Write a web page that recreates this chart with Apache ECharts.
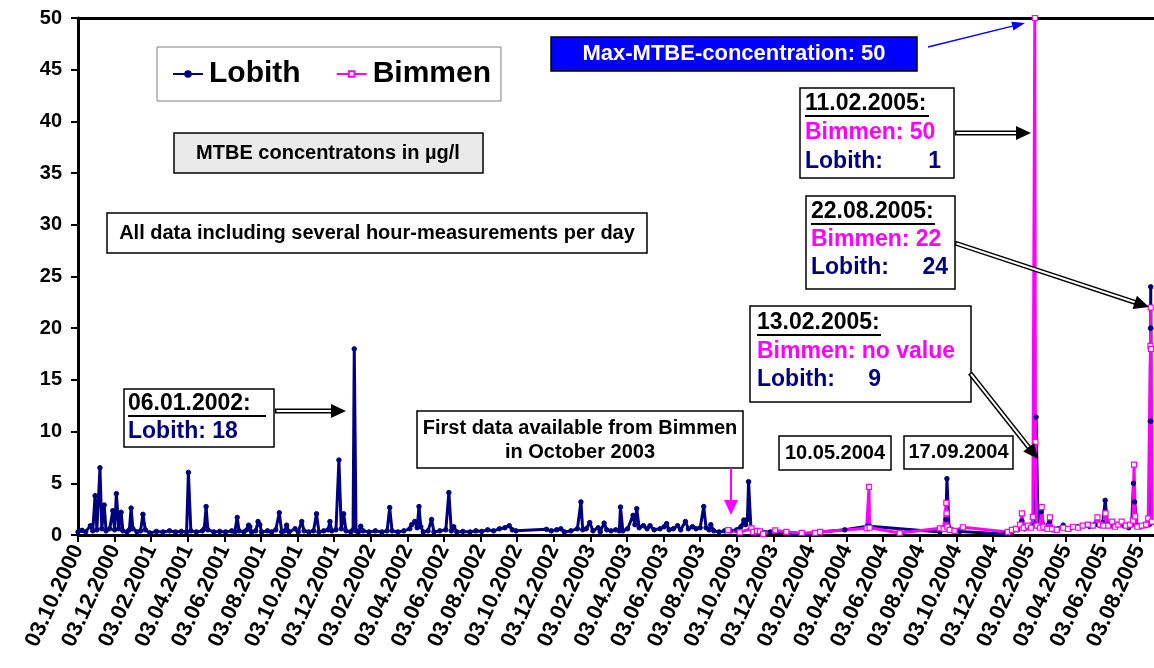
<!DOCTYPE html>
<html>
<head>
<meta charset="utf-8">
<script src="https://cdn.jsdelivr.net/npm/echarts@6/dist/echarts.min.js"></script>
<style>
  html, body { margin: 0; padding: 0; background: #fff; }
  #chart { width: 1154px; height: 668px; }
</style>
</head>
<body>
<div id="chart"></div>
<script>
// dates as dd.mm.yyyy, optionally followed by an hour
const lobithDates = [
  '03.10.2000','10.10.2000','16.10.2000','24.10.2000','28.10.2000','01.11.2000','04.11.2000','09.11.2000','12.11.2000','16.11.2000',
  '19.11.2000','25.11.2000','30.11.2000','03.12.2000','06.12.2000','10.12.2000','14.12.2000','17.12.2000','24.12.2000','28.12.2000',
  '31.12.2000','03.01.2001','10.01.2001','16.01.2001','20.01.2001','24.01.2001','01.02.2001','11.02.2001','21.02.2001','03.03.2001',
  '13.03.2001','23.03.2001','01.04.2001','04.04.2001','08.04.2001','17.04.2001','27.04.2001','30.04.2001','03.05.2001','06.05.2001',
  '16.05.2001','26.05.2001','05.06.2001','15.06.2001','20.06.2001','24.06.2001','27.06.2001','05.07.2001','10.07.2001','13.07.2001',
  '15.07.2001','18.07.2001','25.07.2001','29.07.2001','01.08.2001','04.08.2001','14.08.2001','21.08.2001','28.08.2001','03.09.2001',
  '07.09.2001','12.09.2001','15.09.2001','19.09.2001','29.09.2001','04.10.2001','10.10.2001','14.10.2001','22.10.2001','30.10.2001',
  '04.11.2001','08.11.2001','16.11.2001','23.11.2001','26.11.2001','29.11.2001','06.12.2001','11.12.2001','15.12.2001','19.12.2001',
  '23.12.2001','31.12.2001','04.01.2002','06.01.2002','09.01.2002','13.01.2002','17.01.2002','21.01.2002','31.01.2002','10.02.2002',
  '20.02.2002','28.02.2002','04.03.2002','08.03.2002','18.03.2002','28.03.2002','07.04.2002','10.04.2002','15.04.2002','19.04.2002',
  '22.04.2002','25.04.2002','29.04.2002','07.05.2002','13.05.2002','17.05.2002','27.05.2002','06.06.2002','11.06.2002','15.06.2002',
  '19.06.2002','24.06.2002','04.07.2002','16.07.2002','26.07.2002','05.08.2002','15.08.2002','25.08.2002','04.09.2002','13.09.2002',
  '20.09.2002','25.09.2002','01.10.2002','21.11.2002','29.11.2002','08.12.2002','15.12.2002','21.12.2002','01.01.2003','12.01.2003',
  '18.01.2003','21.01.2003','27.01.2003','02.02.2003','07.02.2003','15.02.2003','18.02.2003','24.02.2003','28.02.2003','07.03.2003',
  '15.03.2003','21.03.2003','23.03.2003','27.03.2003','04.04.2003','13.04.2003','16.04.2003','19.04.2003','23.04.2003','30.04.2003',
  '06.05.2003','11.05.2003','18.05.2003','28.05.2003','04.06.2003','08.06.2003','12.06.2003','19.06.2003','26.06.2003','01.07.2003',
  '09.07.2003','14.07.2003','21.07.2003','27.07.2003','03.08.2003','09.08.2003','13.08.2003','18.08.2003','21.08.2003','26.08.2003',
  '04.09.2003','13.09.2003','23.09.2003','03.10.2003','10.10.2003','15.10.2003','18.10.2003','21.10.2003','23.10.2003','27.10.2003',
  '31.10.2003','28.11.2003','23.12.2003','20.01.2004','19.02.2004','31.03.2004','07.05.2004','11.05.2004','06.09.2004','12.09.2004',
  '16.09.2004','17.09.2004 12','21.09.2004','26.09.2004','09.10.2004','23.12.2004','04.01.2005','14.01.2005','21.01.2005','26.01.2005',
  '03.02.2005','11.02.2005','13.02.2005','16.02.2005','21.02.2005','25.02.2005','06.03.2005','11.03.2005','20.03.2005','29.03.2005',
  '04.04.2005','12.04.2005','22.04.2005','02.05.2005','12.05.2005','21.05.2005','29.05.2005','03.06.2005','07.06.2005','11.06.2005',
  '18.06.2005','28.06.2005','08.07.2005','16.07.2005','21.07.2005','24.07.2005','26.07.2005','30.07.2005','05.08.2005','14.08.2005',
  '20.08.2005','21.08.2005 12','22.08.2005 0','22.08.2005 6','22.08.2005 12','22.08.2005 18','24.08.2005'
];
const lobithValues = [
  0.3,0.45,0.3,0.9,0.4,3.8,0.5,6.5,0.6,2.9,
  0.4,0.6,2.35,0.5,4.0,0.6,2.2,0.4,0.3,0.5,
  2.6,0.6,0.3,0.4,2.0,0.5,0.2,0.35,0.3,0.4,
  0.3,0.35,0.3,6.05,0.4,0.3,0.4,0.6,2.75,0.5,
  0.3,0.35,0.3,0.4,0.3,1.7,0.4,0.3,0.5,0.95,
  0.8,0.3,0.4,1.3,1.0,0.3,0.4,0.3,0.5,2.15,
  0.3,0.4,0.95,0.3,0.6,0.3,1.3,0.4,0.3,0.4,
  2.05,0.3,0.4,0.5,1.3,0.4,0.5,7.25,0.6,2.05,
  0.4,0.3,0.5,18,0.4,0.3,0.85,0.4,0.3,0.4,
  0.3,0.4,2.65,0.4,0.3,0.4,0.6,1.0,1.3,0.7,
  2.75,0.8,0.3,0.4,1.5,0.3,0.4,0.5,4.1,0.4,
  0.8,0.3,0.35,0.3,0.4,0.35,0.5,0.4,0.6,0.7,
  0.9,0.5,0.4,0.55,0.4,0.5,0.6,0.3,0.4,0.6,
  3.2,0.5,0.6,1.2,0.4,0.7,0.3,1.15,0.5,0.4,
  0.5,0.4,2.7,0.4,0.6,1.9,1.0,2.55,0.7,0.9,
  0.6,0.9,0.5,0.6,0.8,1.1,0.5,0.6,0.9,0.5,
  1.3,0.6,0.8,0.6,0.7,2.75,0.7,0.5,1.0,0.4,
  0.3,0.4,0.4,0.5,0.8,1.45,1.0,1.5,5.15,0.6,
  0.4,0.3,0.2,0.1,0.3,0.5,0.85,0.85,0.3,0.6,
  1.5,5.45,0.7,0.5,0.35,0.1,0.3,0.5,1.35,0.6,
  0.7,1.0,11.4,0.8,2.25,0.7,1.3,0.5,0.6,0.95,
  0.6,0.7,0.8,0.9,0.8,1.0,0.9,1.2,3.35,1.0,
  0.9,1.0,0.9,0.7,1.0,5.0,3.2,0.9,0.8,0.9,
  1.0,11,20,24,20,11,1.2
];
const bimmenDates = [
  '19.09.2003','08.10.2003','28.10.2003','31.10.2003','06.11.2003','11.11.2003','16.11.2003','06.12.2003','25.12.2003','20.01.2004',
  '11.02.2004','19.02.2004','06.05.2004','10.05.2004','11.05.2004','30.06.2004','06.09.2004','12.09.2004','16.09.2004 12','17.09.2004',
  '18.09.2004','22.09.2004','30.09.2004','14.10.2004','28.12.2004','04.01.2005','11.01.2005','18.01.2005','21.01.2005','24.01.2005',
  '31.01.2005','05.02.2005','08.02.2005','11.02.2005','12.02.2005','14.02.2005','19.02.2005','21.02.2005 12','24.02.2005','02.03.2005',
  '06.03.2005 12','10.03.2005','18.03.2005','29.03.2005','06.04.2005','14.04.2005','22.04.2005 12','30.04.2005','09.05.2005','17.05.2005',
  '25.05.2005','29.05.2005 12','03.06.2005 12','07.06.2005 12','12.06.2005','18.06.2005 12','23.06.2005','28.06.2005 12','04.07.2005','11.07.2005',
  '18.07.2005','23.07.2005','25.07.2005','27.07.2005','30.07.2005 12','07.08.2005','14.08.2005 12','18.08.2005','21.08.2005 18','22.08.2005 6',
  '22.08.2005 18','24.08.2005 6'
];
const bimmenValues = [
  0.48,0.25,0.64,0.3,0.4,0.35,0.1,0.45,0.3,0.2,
  0.2,0.3,0.65,4.65,0.7,0.2,0.65,0.6,3.1,2.1,
  0.8,0.5,0.4,0.75,0.3,0.5,0.6,1.0,2.1,0.7,
  0.9,0.7,1.75,50,9.0,0.9,0.7,2.7,0.8,0.6,
  1.7,0.6,0.5,0.7,0.6,0.8,0.7,0.9,1.0,0.9,
  1.7,1.0,0.9,2.1,0.9,1.3,0.8,1.0,1.3,0.9,
  1.0,1.4,6.8,1.8,0.8,0.9,1.0,1.6,18.3,22,
  18,1.3
];
const seriesNames = ['Lobith', 'Bimmen'];
const yMin = 0, yMax = 50, yStep = 5;
const xTickStep = 2; // months between ticks, counted from 03.10.2000

const FONT = '"Liberation Sans", Arial, sans-serif';

function toMonths(s) {
  const parts = s.split(' ');
  const [dd, mm, yy] = parts[0].split('.').map(Number);
  const hour = parts[1] ? Number(parts[1]) : 0;
  const dim = new Date(yy, mm, 0).getDate();
  return (yy - 2000) * 12 + (mm - 10) + (dd - 3 + hour / 24) / dim;
}
function monthLabel(v) {
  if (Math.abs(v - Math.round(v)) > 1e-6 || Math.round(v) % xTickStep) return '';
  const total = 9 + Math.round(v);
  const y = 2000 + Math.floor(total / 12);
  const m = total % 12 + 1;
  return '03.' + String(m).padStart(2, '0') + '.' + y;
}

function box(x, y, w, h, fill) {
  return { type: 'rect', z: 20, shape: { x: x, y: y, width: w, height: h },
    style: { fill: fill || '#fff', stroke: '#000', lineWidth: 1.5 } };
}
function txt(x, y, text, size, color, align) {
  return { type: 'text', z: 21, x: x, y: y,
    style: { text: text, fill: color || '#000', font: 'bold ' + size + 'px ' + FONT,
      align: align || 'left', verticalAlign: 'middle' } };
}
function uline(x1, x2, y) {
  return { type: 'line', z: 21, shape: { x1: x1, y1: y, x2: x2, y2: y }, style: { stroke: '#000', lineWidth: 2 } };
}
function doubleArrow(x1, y1, x2, y2) {
  const dx = x2 - x1, dy = y2 - y1, L = Math.hypot(dx, dy);
  const ux = dx / L, uy = dy / L, nx = -uy, ny = ux;
  const hl = 15, hw = 7;
  const bx = x2 - ux * hl, by = y2 - uy * hl;
  return [
    { type: 'line', z: 20, shape: { x1: x1, y1: y1, x2: bx + ux, y2: by + uy }, style: { stroke: '#000', lineWidth: 5 } },
    { type: 'line', z: 20, shape: { x1: x1 + ux * 1.5, y1: y1 + uy * 1.5, x2: bx, y2: by }, style: { stroke: '#fff', lineWidth: 2 } },
    { type: 'polygon', z: 20, shape: { points: [[x2, y2], [bx + nx * hw, by + ny * hw], [bx - nx * hw, by - ny * hw]] }, style: { fill: '#000' } }
  ];
}
function arrow(x1, y1, x2, y2, color, width, hl, hw) {
  const dx = x2 - x1, dy = y2 - y1, L = Math.hypot(dx, dy);
  const ux = dx / L, uy = dy / L, nx = -uy, ny = ux;
  const bx = x2 - ux * hl, by = y2 - uy * hl;
  return [
    { type: 'line', z: 20, shape: { x1: x1, y1: y1, x2: bx, y2: by }, style: { stroke: color, lineWidth: width } },
    { type: 'polygon', z: 20, shape: { points: [[x2, y2], [bx + nx * hw, by + ny * hw], [bx - nx * hw, by - ny * hw]] }, style: { fill: color } }
  ];
}

const NAVY = '#000080', PINK = '#FF00FF';

const notes = [].concat(
  // text boxes
  [box(174, 133, 309, 40, '#EAEAEA'), txt(328, 153, 'MTBE concentratons in µg/l', 20, '#000', 'center')],
  [box(107, 213, 540, 40), txt(377, 233, 'All data including several hour-measurements per day', 20, '#000', 'center')],
  [box(551, 37, 366, 34, '#0000FF'), txt(734, 54, 'Max-MTBE-concentration: 50', 22, '#fff', 'center')],
  arrow(928, 47, 1025, 23, '#0000FF', 1.5, 13, 4.5),
  [box(800, 88, 154, 90), txt(805, 104, '11.02.2005:', 23), uline(805, 929, 116),
   txt(805, 133, 'Bimmen: 50', 23, PINK), txt(805, 162, 'Lobith:', 23, NAVY), txt(941, 162, '1', 23, NAVY, 'right')],
  doubleArrow(955, 133, 1031, 133),
  [box(806, 196, 149, 93), txt(811, 212, '22.08.2005:', 23), uline(811, 935, 224),
   txt(811, 240, 'Bimmen: 22', 23, PINK), txt(811, 268, 'Lobith:', 23, NAVY), txt(948, 268, '24', 23, NAVY, 'right')],
  doubleArrow(955, 243, 1149, 307),
  [box(750, 306, 221, 96), txt(757, 323, '13.02.2005:', 23), uline(757, 881, 335),
   txt(757, 352, 'Bimmen: no value', 23, PINK), txt(757, 380, 'Lobith:', 23, NAVY), txt(881, 380, '9', 23, NAVY, 'right')],
  doubleArrow(970, 373, 1038, 459),
  [box(124, 389, 150, 58), txt(128, 404, '06.01.2002:', 23), uline(128, 266, 416),
   txt(128, 432, 'Lobith: 18', 23, NAVY)],
  doubleArrow(275, 411, 346, 411),
  [box(417, 411, 326, 57), txt(580, 428, 'First data available from Bimmen', 20, '#000', 'center'),
   txt(580, 452, 'in October 2003', 20, '#000', 'center')],
  arrow(731, 468, 731, 515, PINK, 2, 15, 7),
  [box(779, 436, 112, 34), txt(835, 453, '10.05.2004', 20, '#000', 'center')],
  [box(904, 436, 109, 33), txt(958.5, 452.5, '17.09.2004', 20, '#000', 'center')]
);

const chart = echarts.init(document.getElementById('chart'));
chart.setOption({
  animation: false,
  backgroundColor: '#fff',
  grid: { left: 78, right: 0, top: 18, bottom: 133, outerBoundsMode: 'none' },
  legend: {
    data: seriesNames,
    left: 157, top: 47,
    backgroundColor: '#fff', borderColor: '#808080', borderWidth: 1,
    padding: [12, 10, 12, 15],
    itemWidth: 30, itemHeight: 7, itemGap: 35,
    textStyle: { fontFamily: FONT, fontWeight: 'bold', fontSize: 30, color: '#000', padding: [0, 0, 0, 1] }
  },
  xAxis: [{
    type: 'value', min: 0, max: 58.8, interval: xTickStep,
    axisLine: { show: true, lineStyle: { color: '#000', width: 3 } },
    axisTick: { show: true, length: 7, lineStyle: { color: '#000', width: 2 } },
    axisLabel: { showMaxLabel: false, rotate: 65, margin: 11, formatter: monthLabel,
      fontFamily: FONT, fontWeight: 'bold', fontSize: 22, color: '#000' },
    splitLine: { show: false }
  }, {
    type: 'value', position: 'top', min: 0, max: 58.8,
    axisLine: { show: true, onZero: false, lineStyle: { color: '#000', width: 3 } },
    axisTick: { show: false }, axisLabel: { show: false }, splitLine: { show: false }
  }],
  yAxis: {
    type: 'value', min: yMin, max: yMax, interval: yStep,
    axisLine: { show: true, lineStyle: { color: '#000', width: 3 } },
    axisTick: { show: true, length: 7, lineStyle: { color: '#000', width: 2 } },
    axisLabel: { margin: 16, fontFamily: FONT, fontWeight: 'bold', fontSize: 20, color: '#000' },
    splitLine: { show: false }
  },
  series: [{
    name: seriesNames[0], type: 'line',
    data: lobithDates.map((d, i) => [toMonths(d), lobithValues[i]]),
    symbol: 'circle', symbolSize: 4.5, showAllSymbol: true,
    lineStyle: { color: NAVY, width: 3 },
    itemStyle: { color: NAVY, borderColor: NAVY, borderWidth: 1 }
  }, {
    name: seriesNames[1], type: 'line',
    data: bimmenDates.map((d, i) => [toMonths(d), bimmenValues[i]]),
    symbol: 'rect', symbolSize: 5, showAllSymbol: true,
    lineStyle: { color: PINK, width: 3 },
    itemStyle: { color: '#fff', borderColor: PINK, borderWidth: 1.2 }
  }],
  graphic: notes
});
</script>
</body>
</html>
